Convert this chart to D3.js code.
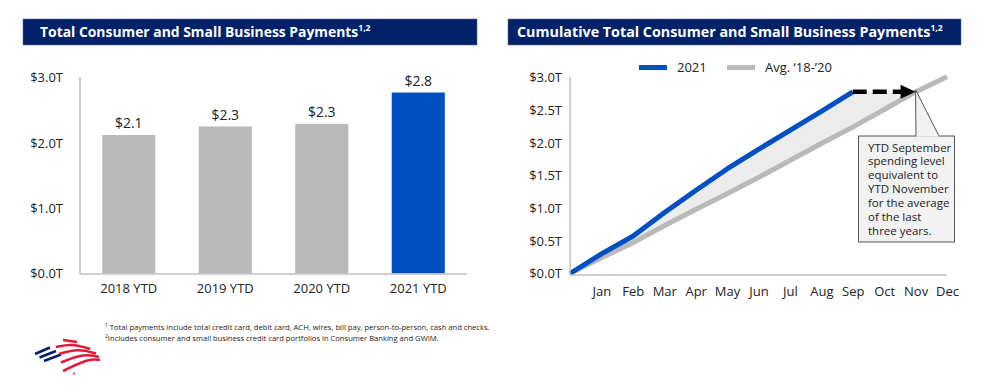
<!doctype html>
<html>
<head>
  <title>Consumer and Small Business Payments</title>
  <script src="https://d3js.org/d3.v7.min.js"></script>
  <style>
    body { margin:0; background:#fff; }
    svg { display:block; font-family:"Open Sans", "Noto Sans", sans-serif; }
  </style>
</head>
<body>
  <script>
    // data (trillions of dollars)
    var barCategories = ["2018 YTD", "2019 YTD", "2020 YTD", "2021 YTD"];
    var barValues = [2.12, 2.25, 2.29, 2.77];
    var barLabels = ["$2.1", "$2.3", "$2.3", "$2.8"];
    var leftTicks = [0, 1, 2, 3];

    var months = ["Jan", "Feb", "Mar", "Apr", "May", "Jun", "Jul", "Aug", "Sep", "Oct", "Nov", "Dec"];
    // cumulative values, index 0 = start of year, index n = end of month n
    var cum2021 = [0, 0.30, 0.57, 0.93, 1.27, 1.60, 1.90, 2.19, 2.48, 2.78];
    var cumAvg = [0, 0.24, 0.47, 0.73, 0.98, 1.22, 1.47, 1.73, 1.99, 2.24, 2.51, 2.78, 3.01];
    var rightTicks = [0, 0.5, 1, 1.5, 2, 2.5, 3];

    var seriesNames = ["2021", "Avg. \u201818-\u201920"];
    var calloutLines = ["YTD September", "spending level", "equivalent to", "YTD November",
                        "for the average", "of the last", "three years."];
    var footnotes = [
      ["1", " Total payments include total credit card, debit card, ACH, wires, bill pay, person-to-person, cash and checks."],
      ["2", "Includes consumer and small business credit card portfolios in Consumer Banking and GWIM."]
    ];

    var width = 982, height = 390;
    var navy = "#012169", blue = "#0050c4", grey = "#b9b9b9", axisGrey = "#bfbfbf";

    var svg = d3.select("body").append("svg")
      .attr("width", width)
      .attr("height", height);

    // title bars
    function titleBar(x, w, pad, size, label) {
      svg.append("rect")
        .attr("x", x).attr("y", 19)
        .attr("width", w).attr("height", 26)
        .attr("fill", navy)
        .attr("stroke", "#5a6aa0").attr("stroke-width", 0.6);
      var t = svg.append("text")
        .attr("x", x + pad).attr("y", 37)
        .attr("fill", "#fff")
        .attr("font-size", size)
        .attr("font-weight", 700)
        .text(label);
      t.append("tspan")
        .attr("dy", -6).attr("font-size", 8.5)
        .text("1,2");
    }
    titleBar(23, 454, 17, 13.9, "Total Consumer and Small Business Payments");
    titleBar(508, 453, 9, 14.3, "Cumulative Total Consumer and Small Business Payments");

    // shared y scale
    var yScale = d3.scaleLinear().domain([0, 3]).range([273.5, 77.5]);

    // ---------- left: bar chart ----------
    var xBand = d3.scaleBand()
      .domain(barCategories)
      .range([80, 467])
      .paddingInner(0.45)
      .paddingOuter(0.23);

    svg.append("g")
      .selectAll("rect")
      .data(barValues)
      .enter()
      .append("rect")
      .attr("x", function(d, i) { return xBand(barCategories[i]); })
      .attr("y", function(d) { return yScale(d); })
      .attr("width", xBand.bandwidth())
      .attr("height", function(d) { return yScale(0) - yScale(d); })
      .attr("fill", function(d, i) { return i == 3 ? blue : grey; });

    svg.append("g")
      .selectAll("text")
      .data(barValues)
      .enter()
      .append("text")
      .attr("x", function(d, i) { return xBand(barCategories[i]) + xBand.bandwidth() / 2; })
      .attr("y", function(d) { return yScale(d) - 7; })
      .attr("text-anchor", "middle")
      .attr("font-size", 14)
      .attr("fill", "#222")
      .text(function(d, i) { return barLabels[i]; });

    var leftAxis = d3.axisLeft(yScale)
      .tickValues(leftTicks)
      .tickSize(0)
      .tickPadding(17)
      .tickFormat(function(d) { return "$" + d3.format(".1f")(d) + "T"; });
    var gl = svg.append("g").attr("transform", "translate(80,0)").call(leftAxis);

    var bottomAxis = d3.axisBottom(xBand).tickSize(0).tickPadding(10);
    var gb = svg.append("g").attr("transform", "translate(0,274)").call(bottomAxis);

    // ---------- right: cumulative lines ----------
    var xMonth = d3.scaleLinear().domain([0, 12]).range([570, 947]);

    // where the average line reaches the 2021 September level
    var target = cum2021[cum2021.length - 1];
    var crossIdx = d3.bisectLeft(cumAvg, target);
    var crossMonth = crossIdx - 1 + (target - cumAvg[crossIdx - 1]) / (cumAvg[crossIdx] - cumAvg[crossIdx - 1]);

    // shaded gap between the two series
    var gapPts = cum2021.map(function(v, i) { return [xMonth(i), yScale(v)]; });
    gapPts.push([xMonth(crossMonth), yScale(target)]);
    for (var i = Math.floor(crossMonth); i >= 0; i--) {
      gapPts.push([xMonth(i), yScale(cumAvg[i])]);
    }
    svg.append("path")
      .attr("d", "M" + gapPts.join("L") + "Z")
      .attr("fill", "#ececec");

    var line = d3.line()
      .x(function(d, i) { return xMonth(i); })
      .y(function(d) { return yScale(d); });

    svg.append("path")
      .datum(cumAvg)
      .attr("d", line)
      .attr("fill", "none")
      .attr("stroke", grey)
      .attr("stroke-width", 5);

    svg.append("path")
      .datum(cum2021)
      .attr("d", line)
      .attr("fill", "none")
      .attr("stroke", blue)
      .attr("stroke-width", 5)
      .attr("stroke-linejoin", "round");

    // dashed arrow from September 2021 to the matching month of the average
    var ay = yScale(target);
    var ax0 = xMonth(cum2021.length - 1), ax1 = xMonth(crossMonth);
    svg.append("line")
      .attr("x1", ax0).attr("y1", ay)
      .attr("x2", ax1 - 14).attr("y2", ay)
      .attr("stroke", "#000")
      .attr("stroke-width", 4.5)
      .attr("stroke-dasharray", "14,6");
    svg.append("path")
      .attr("d", "M" + ax1 + "," + ay + "L" + (ax1 - 15) + "," + (ay - 7) + "L" + (ax1 - 15) + "," + (ay + 7) + "Z")
      .attr("fill", "#000");

    var rightAxis = d3.axisLeft(yScale)
      .tickValues(rightTicks)
      .tickSize(0)
      .tickPadding(8)
      .tickFormat(function(d) { return "$" + d3.format(".1f")(d) + "T"; });
    var gr = svg.append("g").attr("transform", "translate(570,0)").call(rightAxis);

    var monthAxis = d3.axisBottom(xMonth)
      .tickValues(d3.range(1, 13))
      .tickSize(0)
      .tickPadding(12)
      .tickFormat(function(d) { return months[d - 1]; });
    var gm = svg.append("g").attr("transform", "translate(0,275)").call(monthAxis);

    // axis styling
    [gl, gb, gr, gm].forEach(function(g) {
      g.select(".domain").attr("stroke", axisGrey).attr("stroke-width", 1.5);
      g.selectAll("text").attr("font-size", 13).attr("fill", "#222")
        .attr("font-family", "'Open Sans', 'Noto Sans', sans-serif");
    });
    gb.select(".domain").attr("d", "M80,0H467");
    gm.select(".domain").attr("d", "M570,0H947");
    gl.select(".domain").attr("d", "M0,77V274");
    gr.select(".domain").attr("d", "M0,77V275");

    // legend
    var legendX = [639, 727];
    var legendColors = [blue, grey];
    seriesNames.forEach(function(name, i) {
      svg.append("line")
        .attr("x1", legendX[i]).attr("x2", legendX[i] + 28)
        .attr("y1", 67.5).attr("y2", 67.5)
        .attr("stroke", legendColors[i])
        .attr("stroke-width", 5);
      svg.append("text")
        .attr("x", legendX[i] + 38).attr("y", 72)
        .attr("font-size", 13).attr("fill", "#222")
        .text(name);
    });

    // callout box
    var tip = [xMonth(crossMonth), ay - 2];
    svg.append("rect")
      .attr("x", 858.5).attr("y", 136)
      .attr("width", 96).attr("height", 106)
      .attr("fill", "#f2f2f2")
      .attr("stroke", "#555").attr("stroke-width", 1);
    svg.append("path")
      .attr("d", "M916,136L" + tip + "L939,136")
      .attr("fill", "#f2f2f2")
      .attr("stroke", "#555").attr("stroke-width", 1);
    svg.append("line")
      .attr("x1", 916.5).attr("x2", 938.5).attr("y1", 136).attr("y2", 136)
      .attr("stroke", "#f2f2f2").attr("stroke-width", 1.5);
    svg.append("g")
      .selectAll("text")
      .data(calloutLines)
      .enter()
      .append("text")
      .attr("x", 868)
      .attr("y", function(d, i) { return 151.5 + i * 13.9; })
      .attr("font-size", 11.5)
      .attr("fill", "#222")
      .text(function(d) { return d; });

    // footnotes
    var fn = svg.append("g");
    footnotes.forEach(function(f, i) {
      var t = fn.append("text")
        .attr("x", 105).attr("y", 330 + i * 11)
        .attr("font-size", 7.6).attr("fill", "#222");
      t.append("tspan").attr("font-size", 5).attr("dy", -3).text(f[0]);
      t.append("tspan").attr("dy", 3).text(f[1]);
    });

    // flag logo
    var logo = svg.append("g").attr("fill", "none").attr("stroke-width", 2.6).attr("stroke-linecap", "butt");
    [[[35, 354], [50, 347.5]], [[39.5, 357.5], [56, 351]], [[44, 361], [61, 354.5]]].forEach(function(p) {
      logo.append("path").attr("d", "M" + p.join("L")).attr("stroke", navy);
    });
    [[[63, 340], [77, 342]],
     [[56, 347], [72, 343.5], [90, 349]],
     [[59, 354], [78, 348.5], [96, 353.5]],
     [[61, 362.5], [84, 353.5], [99, 357]],
     [[63, 371], [89, 358.5], [100, 360]]].forEach(function(p) {
      logo.append("path").attr("d", d3.line().curve(d3.curveBasis)(p)).attr("stroke", "#e31837");
    });
    svg.append("circle").attr("cx", 74).attr("cy", 373.5).attr("r", 1).attr("fill", "#e31837");
  </script>
</body>
</html>
